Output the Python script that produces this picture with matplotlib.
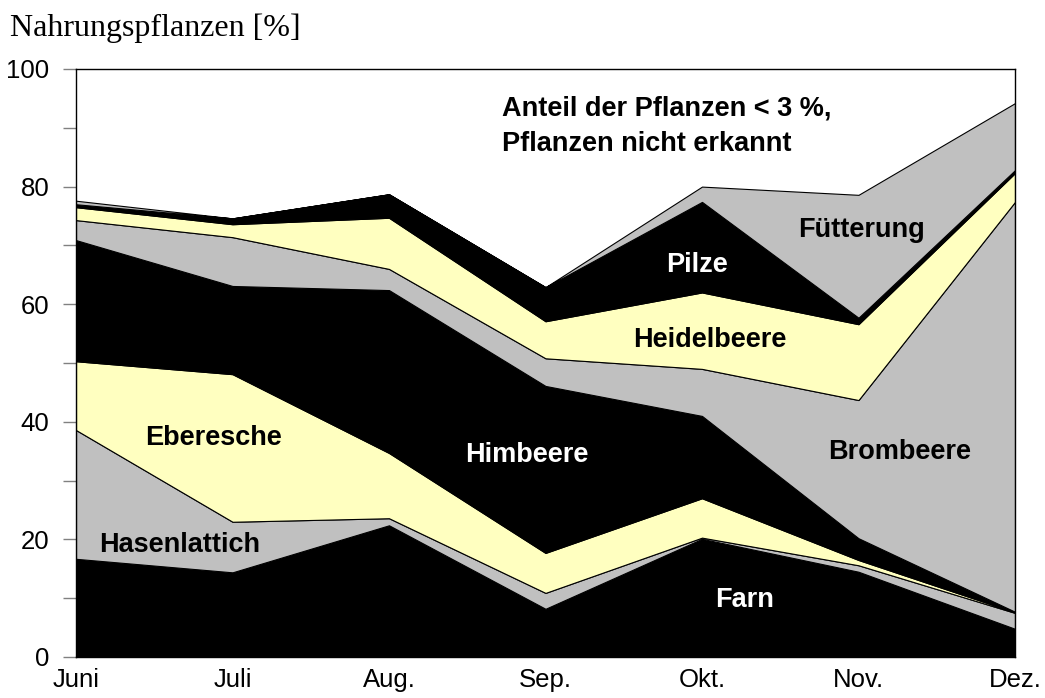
import matplotlib
matplotlib.use('Agg')
import matplotlib.pyplot as plt
import numpy as np

months = ['Juni', 'Juli', 'Aug.', 'Sep.', 'Okt.', 'Nov.', 'Dez.']

# Anteile in % (von unten nach oben gestapelt)
farn = [16.7, 14.4, 22.4, 8.2, 20.1, 14.5, 4.8]
hasenlattich = [21.9, 8.6, 1.2, 2.7, 0.2, 1.1, 2.7]
eberesche = [11.7, 25.1, 11.1, 6.8, 6.7, 0.9, 0.1]
himbeere = [20.6, 15.0, 27.7, 28.4, 14.0, 3.7, 0.1]
brombeere = [3.4, 8.3, 3.6, 4.7, 8.0, 23.5, 69.7]
heidelbeere = [2.2, 2.2, 8.7, 6.3, 13.0, 12.9, 4.9]
pilze = [0.5, 1.0, 4.0, 5.8, 15.4, 1.1, 0.5]
fuetterung = [0.6, 0.0, 0.0, 0.0, 2.6, 20.9, 11.4]

GRAY = '#c0c0c0'
YELLOW = '#ffffc0'
BLACK = '#000000'

fig = plt.figure(figsize=(10.45, 6.98), dpi=100)
ax = fig.add_axes([76 / 1045, 1 - 657 / 698, (1015 - 76) / 1045, (657 - 69) / 698])

x = np.arange(len(months))
layers = [farn, hasenlattich, eberesche, himbeere, brombeere, heidelbeere, pilze, fuetterung]
colors = [BLACK, GRAY, YELLOW, BLACK, GRAY, YELLOW, BLACK, GRAY]
ax.stackplot(x, *layers, colors=colors, edgecolor='black', linewidth=0.8)

ax.set_xlim(0, len(months) - 1)
ax.set_ylim(0, 100)
ax.set_xticks(x)
ax.set_xticklabels(months, family='Liberation Sans', fontsize=18.5)
ax.tick_params(axis='x', length=0, pad=8)
ax.set_yticks(range(0, 101, 20))
ax.set_yticks(range(10, 100, 20), minor=True)
ax.set_yticklabels([str(v) for v in range(0, 101, 20)], family='Liberation Sans', fontsize=18.5)
ax.tick_params(axis='y', which='both', direction='out', length=9.5, width=1,
               color='#808080', pad=9.5)
for s in ax.spines.values():
    s.set_linewidth(1)
    s.set_color('black')

lab = dict(family='Liberation Sans', fontsize=19.5, fontweight='bold', ha='center', va='center')
ax.text(0.88, 37.2, 'Eberesche', color='black', **lab)
ax.text(0.66, 19.0, 'Hasenlattich', color='black', **lab)
ax.text(2.88, 34.4, 'Himbeere', color='white', **lab)
ax.text(4.27, 9.7, 'Farn', color='white', **lab)
ax.text(3.97, 66.7, 'Pilze', color='white', **lab)
ax.text(4.05, 53.9, 'Heidelbeere', color='black', **lab)
ax.text(5.02, 72.6, 'Fütterung', color='black', **lab)
ax.text(5.26, 34.9, 'Brombeere', color='black', **lab)
ax.text(2.72, 90.3, 'Anteil der Pflanzen < 3 %,\nPflanzen nicht erkannt', color='black',
        family='Liberation Sans', fontsize=19.5, fontweight='bold', ha='left', va='center',
        linespacing=1.5)

fig.text(10 / 1045, 1 - 28 / 698, 'Nahrungspflanzen [%]', family='Liberation Serif',
         fontsize=23, ha='left', va='center')

fig.savefig('out.png', dpi=100)
